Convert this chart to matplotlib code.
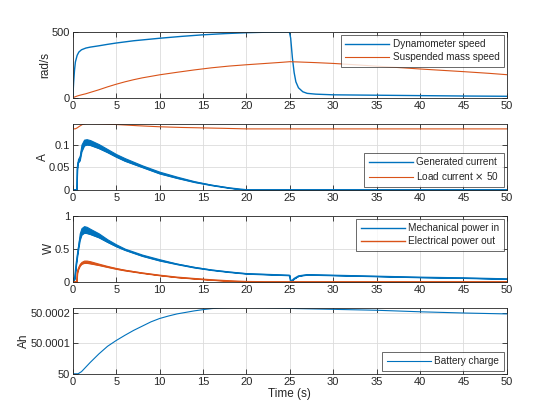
import numpy as np
import matplotlib
matplotlib.use('Agg')
import matplotlib.pyplot as plt
from matplotlib.ticker import FuncFormatter

plt.rcParams['font.family'] = ['Liberation Sans', 'DejaVu Sans']

# ---- data ----
# dynamometer / suspended mass speed (rad/s)
t_dyn = [0, 0.1, 0.2, 0.3, 0.5, 0.7, 1.0, 1.5, 2, 3, 4, 5, 7, 10, 12.5, 15, 17.5, 20, 22.5, 24.95,
         25.1, 25.3, 25.5, 25.7, 26, 26.5, 27, 28, 30, 35, 40, 45, 50]
dyn_speed = [0, 120, 210, 270, 320, 345, 362, 375, 382, 392, 403, 413, 430, 449, 463, 475, 484, 491, 495, 497,
             450, 300, 190, 120, 75, 45, 33, 27, 22, 19, 16, 13, 11]
t_sus = [0, 0.3, 0.6, 1, 1.5, 2, 3, 4, 5, 6, 7, 8, 10, 12, 14, 16, 18, 20, 22, 24, 25,
         26, 28, 30, 33, 35, 38, 40, 43, 45, 48, 50]
sus_speed = [0, 8, 15, 22, 30, 40, 60, 82, 102, 120, 136, 150, 173, 192, 210, 226, 239, 249, 258, 267, 272,
             270, 265, 259, 247, 238, 226, 217, 205, 197, 184, 174]

# generated current (A), oscillating band
t_gen = [0, 0.45, 0.5, 0.6, 0.8, 1.0, 1.3, 1.6, 2, 3, 4, 5, 6, 8, 10, 12, 14, 16, 18, 19, 20, 25, 50]
gen_lo = [0, 0, 0.045, 0.060, 0.065, 0.085, 0.098, 0.100, 0.099, 0.092, 0.083, 0.073, 0.064, 0.050,
          0.036, 0.026, 0.017, 0.010, 0.004, 0.002, 0, 0, 0]
gen_hi = [0, 0, 0.055, 0.068, 0.075, 0.100, 0.111, 0.112, 0.110, 0.101, 0.090, 0.079, 0.070, 0.054,
          0.040, 0.029, 0.019, 0.011, 0.005, 0.002, 0, 0, 0]
# load current x 50
t_load = [0, 0.3, 0.5, 0.8, 1.1, 1.5, 2, 3, 5, 7.5, 10, 12.5, 15, 17.5, 20, 30, 40, 50]
load_cur = [0.1348, 0.135, 0.137, 0.141, 0.1445, 0.1462, 0.1465, 0.146, 0.1445, 0.1418, 0.1395,
            0.138, 0.137, 0.136, 0.1348, 0.1348, 0.1348, 0.1348]

# mechanical power in (W), band
t_mech = [0, 0.2, 0.4, 0.6, 0.8, 1.0, 1.3, 1.6, 2, 3, 4, 5, 6, 8, 10, 12, 14, 16, 18, 20, 22, 24,
          24.95, 25.1, 25.5, 26, 27, 30, 35, 40, 45, 50]
mech_lo = [0, 0.04, 0.28, 0.47, 0.63, 0.71, 0.74, 0.735, 0.72, 0.67, 0.60, 0.535, 0.48, 0.39, 0.32,
           0.265, 0.215, 0.177, 0.147, 0.122, 0.112, 0.103, 0.098, 0.0, 0.05, 0.088, 0.107, 0.098,
           0.083, 0.068, 0.058, 0.043]
mech_hi = [0, 0.06, 0.32, 0.53, 0.73, 0.81, 0.84, 0.83, 0.80, 0.73, 0.64, 0.565, 0.50, 0.41, 0.34,
           0.275, 0.225, 0.183, 0.153, 0.128, 0.118, 0.107, 0.102, 0.0, 0.05, 0.092, 0.113, 0.102,
           0.087, 0.072, 0.062, 0.047]
# electrical power out (W), band
t_elec = [0, 0.45, 0.5, 0.6, 0.8, 1.0, 1.3, 1.6, 2, 3, 4, 5, 6, 8, 10, 12, 14, 16, 18, 20, 22, 50]
elec_lo = [0, 0, 0.13, 0.18, 0.24, 0.27, 0.285, 0.285, 0.277, 0.252, 0.223, 0.195, 0.171, 0.132, 0.098,
           0.069, 0.048, 0.029, 0.014, 0.003, 0, 0]
elec_hi = [0, 0, 0.16, 0.21, 0.27, 0.30, 0.32, 0.32, 0.31, 0.273, 0.238, 0.207, 0.181, 0.138, 0.102,
           0.071, 0.052, 0.031, 0.016, 0.005, 0, 0]

# battery charge (Ah)
t_bat = [0, 0.6, 1.0, 1.4, 2, 3, 4, 5, 6, 7, 8, 9, 10, 11, 12, 13, 14, 15, 16, 17, 18, 19, 20,
         22, 25, 30, 35, 40, 45, 50]
bat_charge = [50.0, 50.0, 50.000007, 50.000019, 50.000037, 50.000065, 50.00009, 50.000109,
              50.000126, 50.000142, 50.000156, 50.00017, 50.000181, 50.000189, 50.000196,
              50.000201, 50.000206, 50.00021, 50.0002135, 50.0002155, 50.0002165, 50.0002168,
              50.0002167, 50.000216, 50.000214, 50.000211, 50.000208, 50.000203, 50.000199,
              50.000196]

blue = '#0072BD'
orange = '#D95319'
axcol = '#262626'

fig = plt.figure(figsize=(5.6, 4.2), dpi=100)
rows = [0.7673, 0.5482, 0.3291, 0.11]
axs = [fig.add_axes([0.13, b, 0.775, 0.1577]) for b in rows]


def style(ax):
    ax.set_xlim(0, 50)
    ax.set_xticks(np.arange(0, 51, 5))
    ax.grid(True, color='#dcdcdc', lw=0.6)
    ax.set_axisbelow(True)
    ax.tick_params(direction='in', length=3.5, width=0.6, top=True, right=True,
                   labelsize=8, colors=axcol, pad=2)
    for s in ax.spines.values():
        s.set_color(axcol)
        s.set_linewidth(0.6)


def legend(ax, loc):
    leg = ax.legend(loc=loc, fontsize=7.2, frameon=True, fancybox=False, handlelength=4.4,
                    borderaxespad=0.3, borderpad=0.45, labelspacing=0.3, handletextpad=0.35)
    leg.get_frame().set_edgecolor(axcol)
    leg.get_frame().set_linewidth(0.6)
    for txt in leg.get_texts():
        txt.set_color(axcol)


ax = axs[0]
ax.plot(t_dyn, dyn_speed, color=blue, lw=1.0, label='Dynamometer speed')
ax.plot(t_sus, sus_speed, color=orange, lw=0.8, label='Suspended mass speed')
ax.set_ylim(0, 500)
ax.set_yticks([0, 500])
ax.set_ylabel('rad/s', fontsize=8.5, color=axcol, labelpad=0)
style(ax)
legend(ax, 'upper right')

ax = axs[1]
ax.fill_between(t_gen, gen_lo, gen_hi, color=blue, lw=0.8)
ax.plot(t_gen, gen_lo, color=blue, lw=1.0, label='Generated current')
ax.plot(t_load, load_cur, color=orange, lw=0.8, label=r'Load current $\times$ 50')
ax.set_ylim(0, 0.1467)
ax.set_yticks([0, 0.05, 0.1])
ax.set_yticklabels(['0', '0.05', '0.1'])
ax.set_ylabel('A', fontsize=8.5, color=axcol, labelpad=0)
style(ax)
legend(ax, 'lower right')

ax = axs[2]
ax.fill_between(t_mech, mech_lo, mech_hi, color=blue, lw=0.8)
ax.plot(t_mech, mech_lo, color=blue, lw=1.0, label='Mechanical power in')
ax.fill_between(t_elec, elec_lo, elec_hi, color=orange, lw=0.8)
ax.plot(t_elec, elec_lo, color=orange, lw=1.0, label='Electrical power out')
ax.set_ylim(0, 1)
ax.set_yticks([0, 0.5, 1])
ax.set_yticklabels(['0', '0.5', '1'])
ax.set_ylabel('W', fontsize=8.5, color=axcol, labelpad=0)
style(ax)
legend(ax, 'upper right')

ax = axs[3]
ax.plot(t_bat, bat_charge, color=blue, lw=0.8, label='Battery charge')
ax.set_ylim(50.0, 50.0002168)
ax.set_yticks([50.0, 50.0001, 50.0002])
ax.yaxis.set_major_formatter(FuncFormatter(lambda v, p: '%g' % v))
ax.set_ylabel('Ah', fontsize=8.5, color=axcol, labelpad=0)
ax.set_xlabel('Time (s)', fontsize=8.5, color=axcol, labelpad=1)
style(ax)
legend(ax, 'lower right')

fig.savefig('out.png', dpi=100)
